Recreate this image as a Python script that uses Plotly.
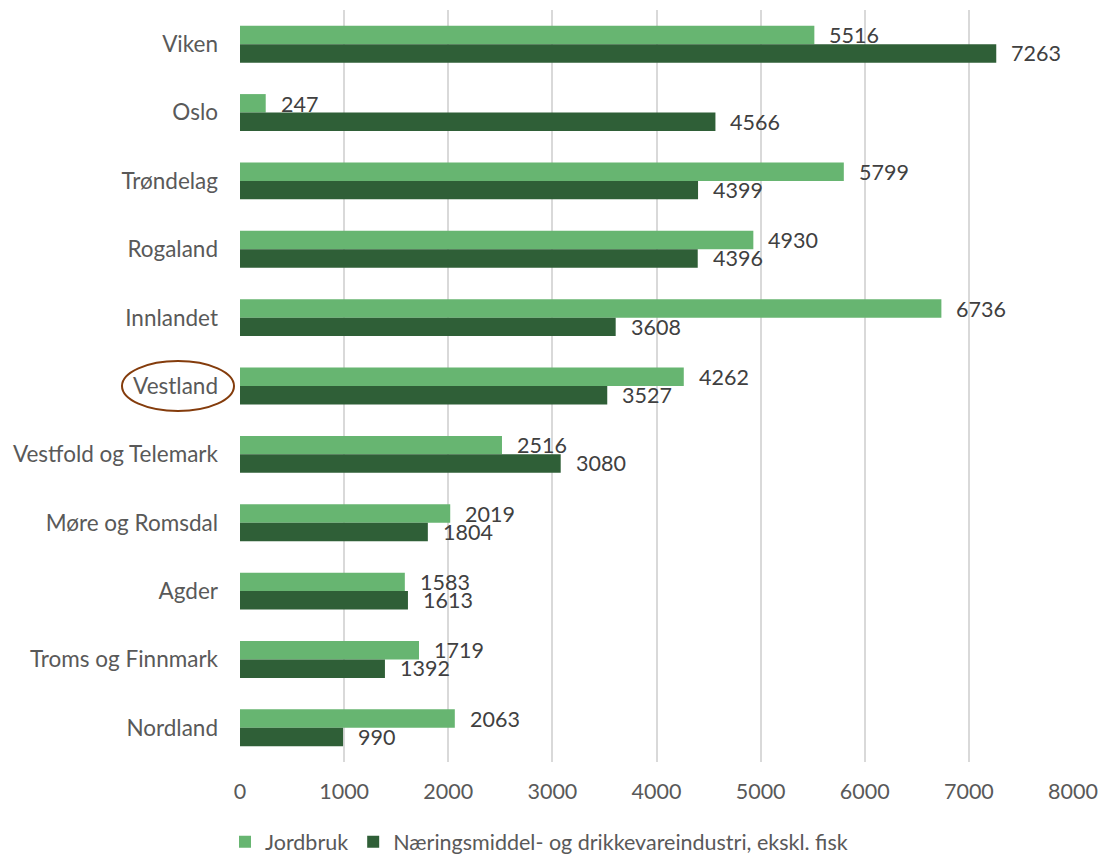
import plotly.graph_objects as go

categories = ["Viken", "Oslo", "Trøndelag", "Rogaland", "Innlandet", "Vestland",
              "Vestfold og Telemark", "Møre og Romsdal", "Agder", "Troms og Finnmark", "Nordland"]
jordbruk = [5516, 247, 5799, 4930, 6736, 4262, 2516, 2019, 1583, 1719, 2063]
naering = [7263, 4566, 4399, 4396, 3608, 3527, 3080, 1804, 1613, 1392, 990]
series_names = ["Jordbruk", "Næringsmiddel- og drikkevareindustri, ekskl. fisk"]
x_ticks = [0, 1000, 2000, 3000, 4000, 5000, 6000, 7000, 8000]

LIGHT = "#67B571"
DARK = "#2F5F37"
FONT = "Lato"
FS = 21.5

fig = go.Figure()
for name, vals, col in [(series_names[0], jordbruk, LIGHT), (series_names[1], naering, DARK)]:
    fig.add_trace(go.Bar(
        y=categories, x=vals, name=name, orientation="h",
        marker=dict(color=col, line=dict(width=0)),
        cliponaxis=False,
    ))

# value labels, placed via data coordinates
for vals, shift in [(jordbruk, 9), (naering, -9)]:
    for cat, v in zip(categories, vals):
        fig.add_annotation(x=v, y=cat, xref="x", yref="y", text=str(v),
                           showarrow=False, xanchor="left", yanchor="middle",
                           xshift=13, yshift=shift,
                           font=dict(family=FONT, size=FS, color="#404040"))

fig.update_layout(
    width=1100, height=854,
    margin=dict(l=240, r=27, t=10, b=92, autoexpand=False),
    paper_bgcolor="white", plot_bgcolor="white",
    barmode="group", bargap=0.46, bargroupgap=0,
    font=dict(family=FONT, size=FS, color="#595959"),
    xaxis=dict(range=[0, 8000], tickvals=x_ticks, showgrid=True, gridcolor="#D9D9D9",
               gridwidth=2, zeroline=False, showline=False, ticks="", automargin=False,
               tickfont=dict(family=FONT, size=FS, color="#595959"), ticklabelstandoff=14),
    yaxis=dict(categoryorder="array", categoryarray=categories, autorange="reversed",
               showgrid=False, zeroline=False, showline=False, ticks="", automargin=False,
               tickfont=dict(family=FONT, size=22.5, color="#595959"), ticklabelstandoff=21),
    legend=dict(orientation="h", x=-0.018, xanchor="left", y=-0.106, yanchor="middle",
                font=dict(family=FONT, size=FS, color="#595959"), traceorder="normal",
                itemwidth=30),
    showlegend=True,
)

fig.add_shape(type="circle", xref="paper", yref="paper",
              x0=(122 - 240) / 833, x1=(234 - 240) / 833,
              y0=(762 - 411) / 752, y1=(762 - 361) / 752,
              line=dict(color="#843C0C", width=2), fillcolor="rgba(0,0,0,0)")

fig.write_html("out.html", config={"displayModeBar": False},
               post_script="document.body.style.margin='0';")
